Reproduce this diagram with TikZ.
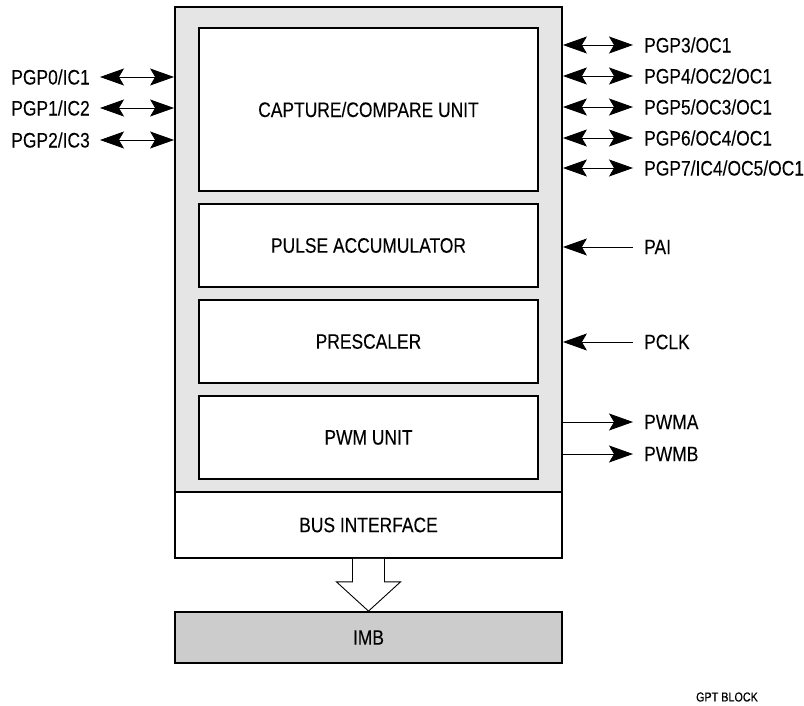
\documentclass[tikz,border=0pt]{standalone}
\usepackage{fontspec}
\setmainfont{Liberation Sans}[FakeStretch=0.83,FakeBold=0.15]
\usetikzlibrary{arrows.meta,calc}
\tikzset{bigtip/.tip={Stealth[length=24pt,width=17pt,inset=5pt]}}
\begin{document}
\begin{tikzpicture}[x=1pt,y=-1pt,
  every node/.style={font=\fontsize{21}{24}\selectfont},
  outerbox/.style={draw, line width=1.8pt, fill=gray!20, inner sep=0pt},
  unitbox/.style={draw, line width=1.6pt, fill=white, inner sep=0pt},
  lbl/.style={inner ysep=0pt},
  sig/.style={line width=0.9pt}
]
\useasboundingbox (0,0) rectangle (804,706);
% outer GPT box
\node[outerbox, minimum width=387pt, minimum height=485pt] (gpt) at (368.5,249.5) {};
\node[unitbox, minimum width=339pt, minimum height=163pt] (cap) at (368.5,109.5) {CAPTURE/COMPARE UNIT};
\node[unitbox, minimum width=339pt, minimum height=83pt] (pacc) at (368.5,245.5) {PULSE ACCUMULATOR};
\node[unitbox, minimum width=339pt, minimum height=83pt] (presc) at (368.5,341.5) {PRESCALER};
\node[unitbox, minimum width=339pt, minimum height=83pt] (pwm) at (368.5,437.5) {PWM UNIT};
\node[unitbox, line width=1.8pt, minimum width=387pt, minimum height=66pt] (bus) at (368.5,525) {BUS INTERFACE};
\node[unitbox, line width=1.8pt, fill=gray!40, minimum width=387pt, minimum height=51pt] (imb) at (368.5,637.5) {IMB};
% bus arrow
\coordinate (bt) at (bus.south);
\draw[line width=0.9pt, fill=white] ($(bt)+(-16,0)$) -- ($(bt)+(-16,23)$) -- ($(bt)+(-32,23)$) -- (imb.north) -- ($(bt)+(32,23)$) -- ($(bt)+(16,23)$) -- ($(bt)+(16,0)$);
% left labels
\node[lbl, anchor=east, inner xsep=10pt] (p0) at (100,77) {PGP0/IC1};
\node[lbl, anchor=east, inner xsep=10pt] (p1) at (100,108) {PGP1/IC2};
\node[lbl, anchor=east, inner xsep=10pt] (p2) at (100,140) {PGP2/IC3};
\foreach \n in {p0,p1,p2}
  \draw[sig, {bigtip}-{bigtip}] (\n.east) -- (\n.east -| gpt.west);
% right labels
\node[lbl, anchor=west, inner xsep=11pt] (p3) at (633,45) {PGP3/OC1};
\node[lbl, anchor=west, inner xsep=11pt] (p4) at (633,76) {PGP4/OC2/OC1};
\node[lbl, anchor=west, inner xsep=11pt] (p5) at (633,107) {PGP5/OC3/OC1};
\node[lbl, anchor=west, inner xsep=11pt] (p6) at (633,138) {PGP6/OC4/OC1};
\node[lbl, anchor=west, inner xsep=11pt] (p7) at (633,168) {PGP7/IC4/OC5/OC1};
\foreach \n in {p3,p4,p5,p6,p7}
  \draw[sig, {bigtip}-{bigtip}] (\n.west -| gpt.east) -- (\n.west);
\node[lbl, anchor=west, inner xsep=11pt] (pai) at (633,247) {PAI};
\node[lbl, anchor=west, inner xsep=11pt] (pclk) at (633,342) {PCLK};
\node[lbl, anchor=west, inner xsep=11pt] (pwma) at (633,422) {PWMA};
\node[lbl, anchor=west, inner xsep=11pt] (pwmb) at (633,454) {PWMB};
\draw[sig, -{bigtip}] (pai.west) -- (pai.west -| gpt.east);
\draw[sig, -{bigtip}] (pclk.west) -- (pclk.west -| gpt.east);
\draw[sig, -{bigtip}] (pwma.west -| gpt.east) -- (pwma.west);
\draw[sig, -{bigtip}] (pwmb.west -| gpt.east) -- (pwmb.west);
% caption
\node[font=\fontsize{13}{15}\selectfont] (cap2) at (727,697) {GPT BLOCK};
\end{tikzpicture}
\end{document}
